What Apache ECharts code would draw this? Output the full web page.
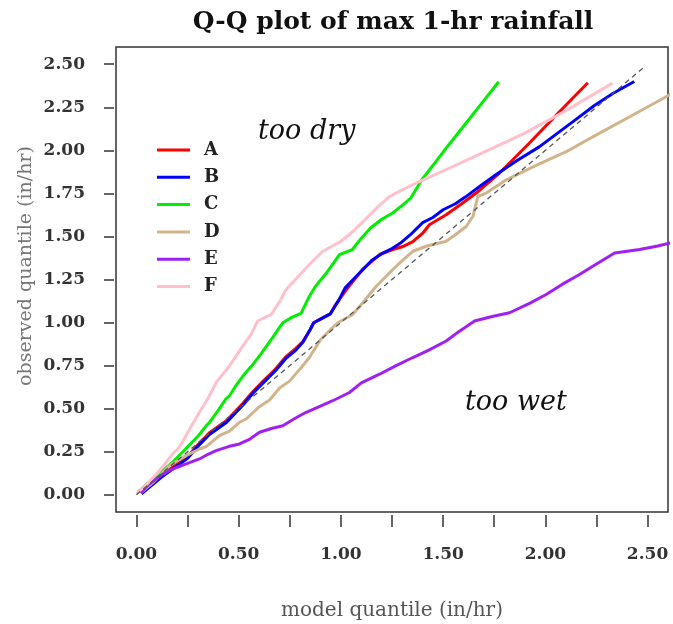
<!DOCTYPE html>
<html><head><meta charset="utf-8">
<script src="https://cdn.jsdelivr.net/npm/echarts@6/dist/echarts.min.js"></script>
<style>html,body{margin:0;padding:0;background:#fff}#c{width:673px;height:624px}</style>
</head><body><div id="c"></div>
<script>
// ---- data (model quantile, observed quantile) ----
const seriesNames = ['A', 'B', 'C', 'D', 'E', 'F'];
const xTicks = [0, 0.25, 0.5, 0.75, 1, 1.25, 1.5, 1.75, 2, 2.25, 2.5];
const xLabels = [0, 0.5, 1, 1.5, 2, 2.5];
const yTicks = [0, 0.25, 0.5, 0.75, 1, 1.25, 1.5, 1.75, 2, 2.25, 2.5];
const oneToOne = [[0, 0], [2.48, 2.48]];

const dataA = [[0.025,0.01],[0.07,0.06],[0.12,0.11],[0.177,0.16],[0.249,0.22],[0.30,0.29],[0.357,0.36],[0.44,0.43],[0.52,0.53],[0.57,0.60],[0.62,0.66],[0.68,0.73],[0.73,0.80],[0.78,0.85],[0.814,0.89],[0.85,0.96],[0.867,0.999],[0.90,1.02],[0.948,1.05],[0.969,1.095],[1.026,1.19],[1.107,1.31],[1.189,1.395],[1.254,1.424],[1.30,1.44],[1.352,1.47],[1.401,1.52],[1.433,1.568],[1.515,1.626],[1.596,1.694],[1.662,1.752],[1.776,1.868],[1.92,2.04],[2.069,2.224],[2.208,2.392]];
const dataB = [[0.025,0.006],[0.07,0.05],[0.12,0.10],[0.177,0.15],[0.249,0.21],[0.30,0.28],[0.357,0.35],[0.44,0.42],[0.52,0.52],[0.57,0.59],[0.62,0.65],[0.68,0.72],[0.73,0.79],[0.78,0.84],[0.814,0.885],[0.85,0.96],[0.867,0.999],[0.90,1.02],[0.948,1.05],[0.99,1.13],[1.02,1.20],[1.06,1.25],[1.11,1.31],[1.15,1.36],[1.20,1.40],[1.25,1.43],[1.29,1.46],[1.34,1.51],[1.40,1.58],[1.45,1.61],[1.50,1.655],[1.56,1.69],[1.61,1.73],[1.69,1.80],[1.76,1.86],[1.86,1.94],[1.97,2.02],[2.06,2.10],[2.15,2.18],[2.24,2.26],[2.33,2.33],[2.435,2.40]];
const dataC = [[0.007,0.015],[0.05,0.06],[0.10,0.11],[0.177,0.19],[0.227,0.25],[0.26,0.29],[0.303,0.343],[0.341,0.40],[0.357,0.42],[0.40,0.49],[0.437,0.556],[0.455,0.575],[0.49,0.64],[0.528,0.70],[0.565,0.75],[0.61,0.82],[0.67,0.92],[0.716,0.999],[0.76,1.03],[0.805,1.053],[0.846,1.153],[0.876,1.211],[0.930,1.289],[0.993,1.395],[1.056,1.424],[1.10,1.49],[1.145,1.549],[1.20,1.60],[1.253,1.636],[1.30,1.68],[1.342,1.723],[1.396,1.829],[1.50,1.99],[1.60,2.14],[1.70,2.29],[1.772,2.398]];
const dataD = [[0.02,0.01],[0.08,0.07],[0.161,0.17],[0.243,0.227],[0.308,0.266],[0.341,0.28],[0.406,0.343],[0.455,0.37],[0.504,0.421],[0.537,0.44],[0.60,0.51],[0.651,0.55],[0.70,0.62],[0.749,0.66],[0.80,0.73],[0.846,0.797],[0.863,0.83],[0.90,0.90],[0.95,0.96],[0.985,0.999],[1.058,1.047],[1.107,1.115],[1.173,1.211],[1.254,1.308],[1.30,1.36],[1.352,1.414],[1.417,1.443],[1.515,1.472],[1.56,1.51],[1.613,1.558],[1.646,1.617],[1.670,1.732],[1.711,1.752],[1.809,1.829],[1.95,1.91],[2.102,1.992],[2.25,2.09],[2.428,2.205],[2.62,2.33]];
const dataE = [[0.02,0.01],[0.06,0.06],[0.096,0.093],[0.13,0.12],[0.161,0.141],[0.20,0.16],[0.243,0.179],[0.308,0.208],[0.35,0.235],[0.390,0.256],[0.45,0.28],[0.504,0.295],[0.55,0.32],[0.602,0.363],[0.66,0.385],[0.716,0.401],[0.77,0.44],[0.830,0.479],[0.90,0.515],[0.960,0.546],[1.042,0.594],[1.10,0.65],[1.189,0.700],[1.27,0.75],[1.352,0.797],[1.43,0.84],[1.515,0.893],[1.58,0.95],[1.654,1.009],[1.74,1.035],[1.825,1.057],[1.92,1.11],[2.004,1.163],[2.08,1.22],[2.167,1.279],[2.25,1.34],[2.339,1.404],[2.461,1.424],[2.55,1.445],[2.62,1.465]];
const dataF = [[0.0,0.006],[0.05,0.06],[0.106,0.131],[0.177,0.237],[0.21,0.276],[0.26,0.38],[0.308,0.479],[0.35,0.56],[0.390,0.652],[0.455,0.748],[0.520,0.864],[0.56,0.93],[0.593,1.009],[0.659,1.047],[0.70,1.12],[0.732,1.192],[0.797,1.275],[0.846,1.337],[0.911,1.414],[1.001,1.472],[1.06,1.53],[1.12,1.60],[1.18,1.67],[1.238,1.732],[1.30,1.77],[1.384,1.819],[1.50,1.88],[1.70,1.99],[1.90,2.10],[2.10,2.23],[2.20,2.30],[2.329,2.39]];

const allData = [dataA, dataB, dataC, dataD, dataE, dataF];
const colors = ['#ff0000', '#0000ff', '#00ee00', '#d2b48c', '#a020f0', '#ffc0cb'];
const FONT = '"DejaVu Serif", "Liberation Serif", serif';

const chart = echarts.init(document.getElementById('c'), null, {renderer: 'canvas'});
const series = allData.map((d, i) => ({
  name: seriesNames[i], type: 'line', data: d, showSymbol: false, symbol: 'none',
  lineStyle: {color: colors[i], width: 3}, itemStyle: {color: colors[i]},
  clip: true, silent: true
}));
series.push({
  name: 'one-to-one', type: 'line', data: oneToOne, showSymbol: false, symbol: 'none',
  lineStyle: {color: '#555', width: 1.3, type: [5, 4]}, silent: true, z: 3
});

chart.setOption({
  animation: false,
  backgroundColor: '#fff',
  grid: {left: 116, right: 5, top: 47, bottom: 112, outerBoundsMode: 'none', containLabel: false, show: true, borderColor: '#333', borderWidth: 1.5, backgroundColor: 'transparent'},
  graphic: [
    {type: 'text', x: 393, y: 10, style: {text: 'Q-Q plot of max 1-hr rainfall', font: 'bold 25px ' + FONT, fill: '#111', textAlign: 'center', textVerticalAlign: 'top'}},
    {type: 'text', x: 258, y: 118, style: {text: 'too dry', font: 'italic 27px ' + FONT, fill: '#111', textVerticalAlign: 'top'}},
    {type: 'text', x: 465, y: 389, style: {text: 'too wet', font: 'italic 27px ' + FONT, fill: '#111', textVerticalAlign: 'top'}},
    {type: 'text', x: 26, y: 266, rotation: Math.PI / 2, style: {text: 'observed quantile (in/hr)', font: '19px ' + FONT, fill: '#777', textAlign: 'center', textVerticalAlign: 'middle'}}
  ],
  legend: {
    data: seriesNames, orient: 'vertical', left: 152, top: 136,
    icon: 'rect', itemWidth: 33, itemHeight: 3, itemGap: 9.3,
    textStyle: {fontFamily: FONT, fontSize: 18, color: '#222', fontWeight: 'bold', lineHeight: 18, padding: [0, 0, 0, 9]},
    selectedMode: false
  },
  xAxis: {
    type: 'value', min: -0.1, max: 2.6, offset: 3,
    name: 'model quantile (in/hr)', nameLocation: 'middle', nameGap: 86,
    nameTextStyle: {fontFamily: FONT, fontSize: 20, color: '#555'},
    axisLine: {show: false, onZero: false},
    axisTick: {show: true, inside: false, customValues: xTicks, length: 12, lineStyle: {color: '#333', width: 1.5}},
    axisLabel: {customValues: xLabels, formatter: v => v.toFixed(2), margin: 31, fontFamily: FONT, fontSize: 17, fontWeight: 'bold', color: '#333'},
    splitLine: {show: false}
  },
  yAxis: {
    type: 'value', min: -0.1, max: 2.6, offset: 2,
    axisLine: {show: false, onZero: false},
    axisTick: {show: true, inside: false, customValues: yTicks, length: 10, lineStyle: {color: '#333', width: 1.5}},
    axisLabel: {customValues: yTicks, formatter: v => v.toFixed(2), margin: 29, fontFamily: FONT, fontSize: 17, fontWeight: 'bold', color: '#333'},
    splitLine: {show: false}
  },
  series: series
});
</script>
</body></html>
